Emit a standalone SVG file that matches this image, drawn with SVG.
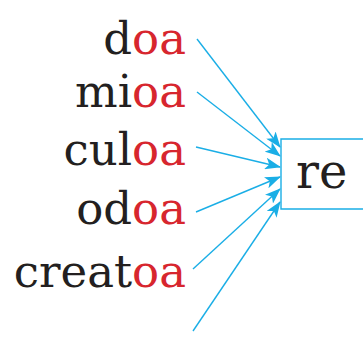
<svg xmlns="http://www.w3.org/2000/svg" width="363" height="340" viewBox="0 0 363 340">
<style>
.t{font-family:"DejaVu Serif","Liberation Serif",serif;font-size:45px;fill:#231f20;text-anchor:end}
.r{fill:#d7262e}
.c{stroke:#1aaee6;stroke-width:1.4;fill:none}
</style>
<defs>
<marker id="ah" viewBox="0 0 16 12" refX="15" refY="6" markerWidth="16" markerHeight="12" markerUnits="userSpaceOnUse" orient="auto">
<path d="M0,0 L16,6 L0,12 L4,6 Z" fill="#1aaee6"/>
</marker>
</defs>
<rect width="363" height="340" fill="#fff"/>
<g id="n1"><text class="t" x="186" y="54">d<tspan class="r">oa</tspan></text></g>
<g id="n2"><text class="t" x="186" y="107">mi<tspan class="r">oa</tspan></text></g>
<g id="n3"><text class="t" x="186" y="165">cul<tspan class="r">oa</tspan></text></g>
<g id="n4"><text class="t" x="186" y="224">od<tspan class="r">oa</tspan></text></g>
<g id="n5"><text class="t" x="186" y="287">creat<tspan class="r">oa</tspan></text></g>
<g id="re"><path d="M363,139 H281 V209 H363" class="c"/><text x="296" y="188" style="font-family:'DejaVu Serif','Liberation Serif',serif;font-size:48px;fill:#231f20">re</text></g>
<g id="connectors" class="c">
<line x1="197" y1="39" x2="280" y2="147" marker-end="url(#ah)"/>
<line x1="197" y1="92" x2="280" y2="156" marker-end="url(#ah)"/>
<line x1="196" y1="147" x2="280" y2="167" marker-end="url(#ah)"/>
<line x1="196" y1="212" x2="280" y2="177" marker-end="url(#ah)"/>
<line x1="193" y1="269" x2="280" y2="189" marker-end="url(#ah)"/>
<line x1="193" y1="331" x2="280" y2="202" marker-end="url(#ah)"/>
</g>
</svg>
